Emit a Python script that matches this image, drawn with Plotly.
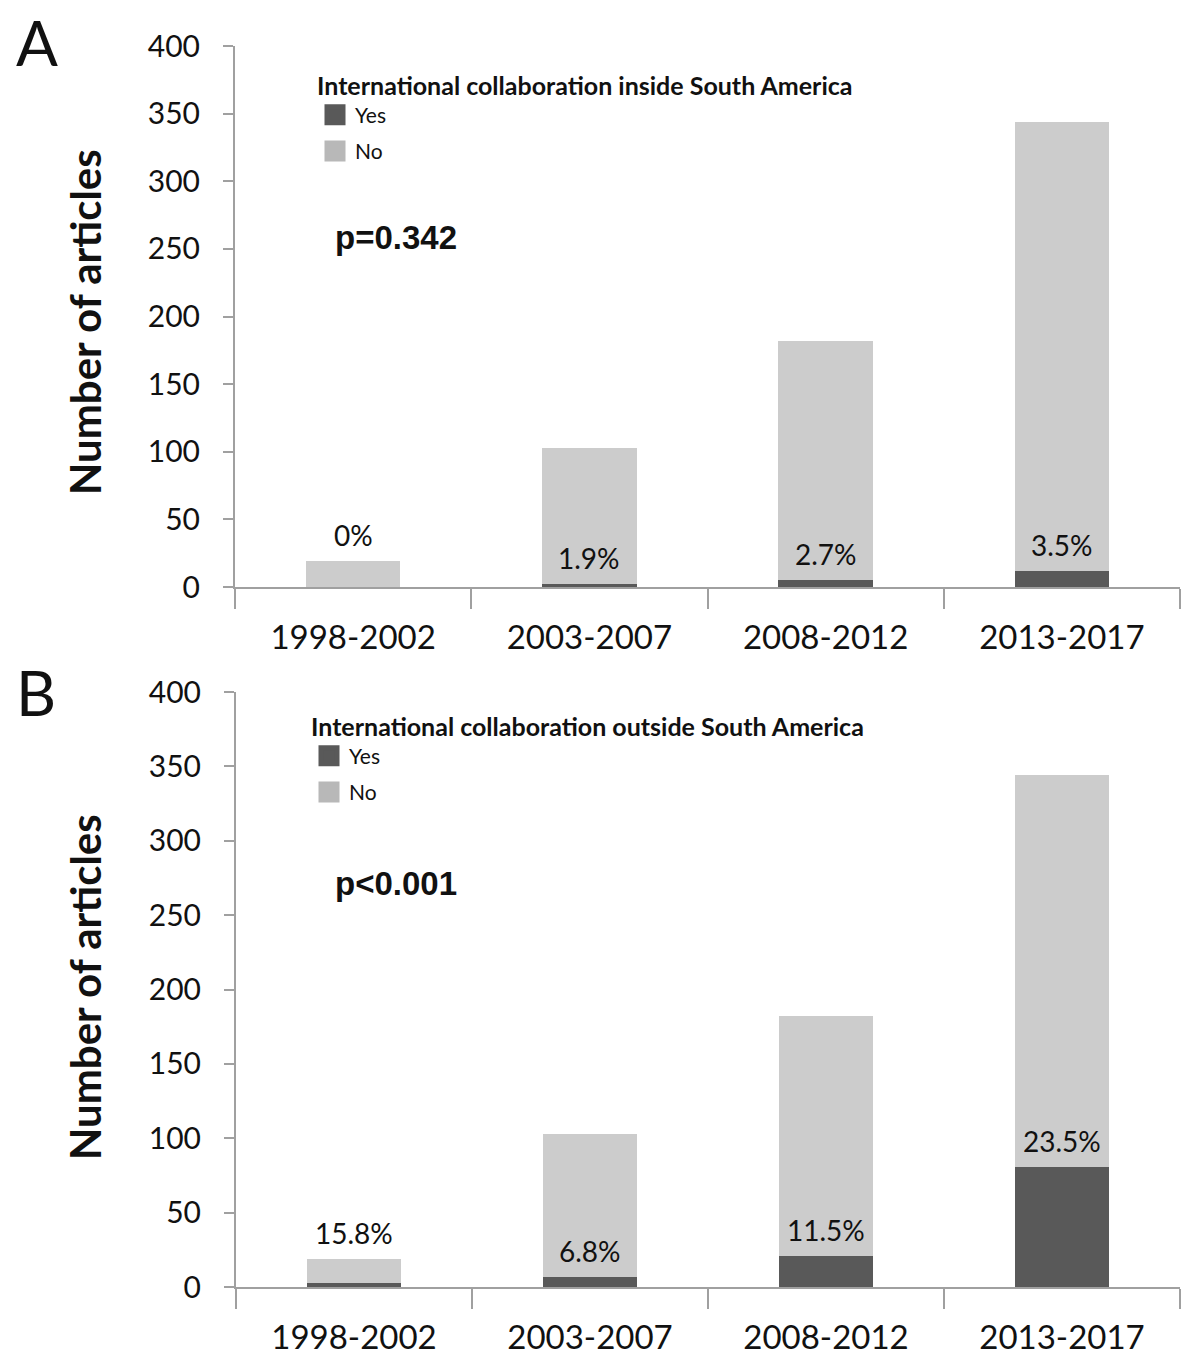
import plotly.graph_objects as go

# ---- data ----
periods = ["1998-2002", "2003-2007", "2008-2012", "2013-2017"]
inside_yes = [0, 2, 5, 12]
inside_no = [19, 101, 177, 332]
inside_pct = ["0%", "1.9%", "2.7%", "3.5%"]
outside_yes = [3, 7, 21, 81]
outside_no = [16, 96, 161, 263]
outside_pct = ["15.8%", "6.8%", "11.5%", "23.5%"]
y_ticks = [0, 50, 100, 150, 200, 250, 300, 350, 400]
legend_titles = ["International collaboration inside South America",
                 "International collaboration outside South America"]
p_values = ["p=0.342", "p<0.001"]
panel_labels = ["A", "B"]

W, H = 1200, 1366
YES_C = "#595959"
NO_C = "#cccccc"
NO_LEG_C = "#b8b8b8"
AX_C = "#a0a0a0"
FONT = "Lato"
TXT = "#111111"


def px(x):
    return x / W


def py(y):
    return 1 - y / H


fig = go.Figure()

panels = [
    dict(yes=inside_yes, no=inside_no, pct=inside_pct, xa="x", ya="y", leg="legend"),
    dict(yes=outside_yes, no=outside_no, pct=outside_pct, xa="x2", ya="y2", leg="legend2"),
]

for i, p in enumerate(panels):
    fig.add_trace(go.Bar(x=periods, y=p["yes"], name="Yes", marker_color=YES_C,
                         marker_line_width=0, xaxis=p["xa"], yaxis=p["ya"],
                         showlegend=False))
    fig.add_trace(go.Bar(x=periods, y=p["no"], name="No", marker_color=NO_C,
                         marker_line_width=0, xaxis=p["xa"], yaxis=p["ya"],
                         showlegend=False))
    # legend entries (square swatches)
    for nm, col in (("Yes", YES_C), ("No", NO_LEG_C)):
        fig.add_trace(go.Scatter(x=[None], y=[None], mode="markers", name=nm,
                                 marker=dict(symbol="square", size=16, color=col,
                                             line=dict(color=col, width=5)),
                                 xaxis=p["xa"], yaxis=p["ya"], legend=p["leg"],
                                 legendgroup=f"{nm}{i}", hoverinfo="skip"))
    for cat, yv, nv, txt in zip(periods, p["yes"], p["no"], p["pct"]):
        total = yv + nv
        anchor = total if yv + 25 > total else yv
        fig.add_annotation(x=cat, y=anchor, xref=p["xa"], yref=p["ya"], text=txt,
                           showarrow=False, yanchor="bottom", yshift=7,
                           font=dict(family=FONT, size=28, color=TXT))

axis_common_x = dict(type="category", showline=True, linecolor=AX_C, linewidth=2,
                     ticks="outside", tickson="boundaries", ticklen=20, tickwidth=2,
                     tickcolor=AX_C, showgrid=False, automargin=False,
                     ticklabelstandoff=20,
                     tickfont=dict(family=FONT, size=33, color=TXT))
axis_common_y = dict(range=[0, 400], tickvals=y_ticks, showline=True, linecolor=AX_C,
                     linewidth=2, ticks="outside", ticklen=10, tickwidth=2, tickcolor=AX_C,
                     showgrid=False, zeroline=False, automargin=False,
                     ticklabelstandoff=17,
                     tickfont=dict(family=FONT, size=30, color=TXT))

leg_common = dict(xanchor="left", yanchor="top", bgcolor="rgba(0,0,0,0)",
                  tracegroupgap=6, traceorder="grouped",
                  font=dict(family=FONT, size=21, color=TXT))

fig.update_layout(
    width=W, height=H, margin=dict(l=0, r=0, t=0, b=0),
    paper_bgcolor="white", plot_bgcolor="white",
    barmode="stack", bargap=0.6,
    xaxis=dict(domain=[px(235), px(1180)], anchor="y", **axis_common_x),
    yaxis=dict(domain=[py(587), py(46)], anchor="x", **axis_common_y),
    xaxis2=dict(domain=[px(236), px(1180)], anchor="y2", **axis_common_x),
    yaxis2=dict(domain=[py(1287), py(692)], anchor="x2", **axis_common_y),
    legend=dict(x=px(315), y=py(62),
                title=dict(text="<b>" + legend_titles[0] + "</b>",
                           font=dict(family=FONT, size=25, color=TXT)),
                **leg_common),
    legend2=dict(x=px(309), y=py(703),
                 title=dict(text="<b>" + legend_titles[1] + "</b>",
                            font=dict(family=FONT, size=25, color=TXT)),
                 **leg_common),
    showlegend=True,
)

# panel letters, p-values, axis titles
title_centers = [322, 987]
p_centers = [238, 883]
letter_centers = [42, 692]
for i in range(2):
    fig.add_annotation(x=px(85), y=py(title_centers[i]), xref="paper", yref="paper",
                       text="<b>Number of articles</b>", textangle=-90, showarrow=False,
                       xanchor="center", yanchor="middle",
                       font=dict(family=FONT, size=42, color=TXT))
    fig.add_annotation(x=px(333), y=py(p_centers[i]), xref="paper", yref="paper",
                       text="<b>" + p_values[i] + "</b>", showarrow=False,
                       xanchor="left", yanchor="middle",
                       font=dict(family="Liberation Sans", size=33, color=TXT))
    fig.add_annotation(x=px(14), y=py(letter_centers[i]), xref="paper", yref="paper",
                       text=panel_labels[i], showarrow=False,
                       xanchor="left", yanchor="middle",
                       font=dict(family=FONT, size=62, color=TXT))

fig.write_html("out.html", config={"displayModeBar": False},
               post_script="document.body.style.margin='0';document.body.style.padding='0';")
